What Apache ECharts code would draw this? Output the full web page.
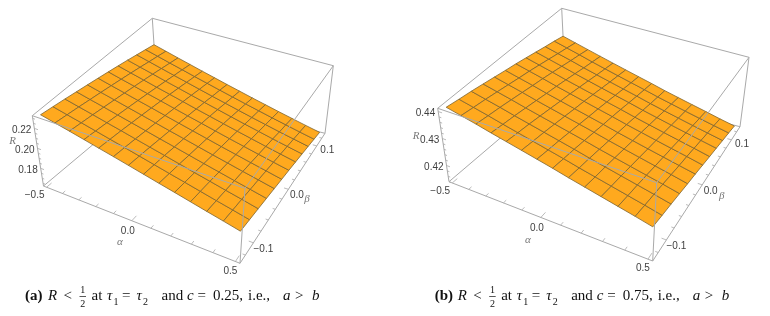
<!DOCTYPE html>
<html><head><meta charset="utf-8">
<style>html,body{margin:0;padding:0;background:#fff}#c{width:770px;height:316px}</style>
<script src="https://cdn.jsdelivr.net/npm/echarts@6/dist/echarts.min.js"></script>
</head><body><div id="c"></div>
<script>
const alphaNodes=[-0.5,-0.4231,-0.3462,-0.2692,-0.1923,-0.1154,-0.0385,0.0385,0.1154,0.1923,0.2692,0.3462,0.4231,0.5];
const betaNodes=[-0.125,-0.1023,-0.0795,-0.0568,-0.0341,-0.0114,0.0114,0.0341,0.0568,0.0795,0.1023,0.125];
const surfaceA=[
[.2313,.2278,.2244,.2209,.2174,.2140,.2105,.2070,.2035,.2001,.1966,.1931,.1897,.1862],
[.2294,.2259,.2225,.2190,.2155,.2121,.2086,.2051,.2016,.1982,.1947,.1912,.1878,.1843],
[.2275,.2240,.2206,.2171,.2137,.2102,.2067,.2033,.1998,.1963,.1929,.1894,.1860,.1824],
[.2255,.2220,.2186,.2151,.2117,.2082,.2047,.2013,.1978,.1943,.1909,.1874,.1840,.1805],
[.2236,.2201,.2167,.2132,.2098,.2063,.2028,.1994,.1959,.1924,.1890,.1855,.1821,.1786],
[.2217,.2182,.2148,.2113,.2079,.2044,.2009,.1975,.1940,.1905,.1871,.1836,.1802,.1767],
[.2198,.2163,.2129,.2094,.2060,.2025,.1990,.1956,.1921,.1886,.1852,.1817,.1783,.1749],
[.2179,.2144,.2110,.2075,.2041,.2006,.1971,.1937,.1902,.1867,.1833,.1798,.1764,.1730],
[.2160,.2125,.2091,.2056,.2022,.1987,.1952,.1918,.1883,.1848,.1814,.1779,.1745,.1711],
[.2140,.2105,.2071,.2036,.2002,.1967,.1932,.1898,.1863,.1828,.1794,.1759,.1726,.1692],
[.2121,.2087,.2052,.2018,.1983,.1949,.1914,.1880,.1845,.1811,.1776,.1742,.1707,.1673],
[.2102,.2068,.2033,.1999,.1964,.1930,.1895,.1861,.1826,.1792,.1757,.1723,.1688,.1654]];
const surfaceB=[
[.4407,.4394,.4381,.4367,.4354,.4341,.4328,.4315,.4301,.4288,.4275,.4262,.4249,.4235],
[.4399,.4386,.4373,.4359,.4346,.4333,.4320,.4307,.4293,.4280,.4267,.4254,.4241,.4227],
[.4392,.4379,.4366,.4352,.4339,.4326,.4313,.4300,.4286,.4273,.4260,.4247,.4234,.4220],
[.4384,.4371,.4358,.4344,.4331,.4318,.4305,.4292,.4278,.4265,.4252,.4239,.4226,.4212],
[.4376,.4363,.4350,.4336,.4323,.4310,.4297,.4284,.4270,.4257,.4244,.4231,.4218,.4204],
[.4368,.4355,.4342,.4328,.4315,.4302,.4289,.4276,.4262,.4249,.4236,.4223,.4210,.4197],
[.4361,.4348,.4335,.4321,.4308,.4295,.4282,.4269,.4255,.4242,.4229,.4216,.4203,.4189],
[.4353,.4340,.4327,.4313,.4300,.4287,.4274,.4261,.4247,.4234,.4221,.4208,.4195,.4181],
[.4345,.4332,.4319,.4305,.4292,.4279,.4266,.4253,.4239,.4226,.4213,.4200,.4187,.4174],
[.4337,.4324,.4311,.4297,.4284,.4271,.4258,.4245,.4231,.4218,.4205,.4192,.4179,.4166],
[.4330,.4317,.4304,.4290,.4277,.4264,.4251,.4238,.4224,.4211,.4198,.4185,.4172,.4159],
[.4322,.4309,.4296,.4283,.4270,.4257,.4244,.4231,.4217,.4204,.4191,.4178,.4164,.4151]];
const alphaTicks=[-0.5,-0.4,-0.3,-0.2,-0.1,0,0.1,0.2,0.3,0.4,0.5];
const betaTicks=[-0.12,-0.1,-0.08,-0.06,-0.04,-0.02,0,0.02,0.04,0.06,0.08,0.1,0.12];
const alphaLabels=['\u22120.5','0.0','0.5'], alphaLabelValues=[-0.5,0,0.5];
const betaLabels=['\u22120.1','0.0','0.1'], betaLabelValues=[-0.1,0,0.1];
const rTicksA=[0.165,0.17,0.175,0.18,0.185,0.19,0.195,0.2,0.205,0.21,0.215,0.22,0.225,0.23];
const rLabelValuesA=[0.18,0.2,0.22], rLabelsA=['0.18','0.20','0.22'];
const rTicksB=[0.414,0.416,0.418,0.42,0.422,0.424,0.426,0.428,0.43,0.432,0.434,0.436,0.438,0.44];
const rLabelValuesB=[0.42,0.43,0.44], rLabelsB=['0.42','0.43','0.44'];
const camA={top:[[32.3,115.7],[245,188.3],[333.3,65.7],[152.3,18.3]],bot:[[43.5,186],[240,263.3],[325,133.3],[157,91]],r:[0.1623,0.2327],rMajor:[0.18,0.2,0.22],
  alphaName:[120,242],betaName:[307,199],rName:[12.5,141]};
const camB={top:[[437.7,108.3],[656.7,182.7],[749,57.3],[561.7,8.3]],bot:[[449,181.7],[652.7,261],[740,126.7],[565.3,82.7]],r:[0.414,0.4412],rMajor:[0.42,0.43,0.44],
  alphaName:[528,240],betaName:[721.7,195.7],rName:[416,136]};
const A_RANGE=[-0.52,0.52],B_RANGE=[-0.133,0.133];
const alphaOff=[[-12,8.5],[-4,11],[-5,9.5]],betaOff=[[10,6.5],[8.5,6],[10.5,4]],rOff=[-12.7,1.7];
const BOX='#a9a9a9',TXT='#3f3f3f',AXN='#777';
function hom(q){const [[x0,y0],[x1,y1],[x2,y2],[x3,y3]]=q;
  const dx1=x1-x2,dx2=x3-x2,sx=x0-x1+x2-x3,dy1=y1-y2,dy2=y3-y2,sy=y0-y1+y2-y3,d=dx1*dy2-dx2*dy1;
  const g=(sx*dy2-dx2*sy)/d,h=(dx1*sy-sx*dy1)/d;
  const a=x1-x0+g*x1,b=x3-x0+h*x3,e=y1-y0+g*y1,f=y3-y0+h*y3;
  return (u,v)=>{const w=g*u+h*v+1;return [(a*u+b*v+x0)/w,(e*u+f*v+y0)/w];};}
function camera(c){const T=hom(c.top),B=hom(c.bot);
  return (u,v,w)=>{const p=B(u,v),q=T(u,v);return [p[0]+(q[0]-p[0])*w,p[1]+(q[1]-p[1])*w];};}
const nu=a=>(a-A_RANGE[0])/(A_RANGE[1]-A_RANGE[0]),nv=b=>(b-B_RANGE[0])/(B_RANGE[1]-B_RANGE[0]);
const base={type:'custom',coordinateSystem:'cartesian2d',silent:true,animation:false,clip:false};
function panel(cam,rows,rTicks,rLV,rL){
  const P=camera(cam),nw=r=>(r-cam.r[0])/(cam.r[1]-cam.r[0]);
  const line=(api,a,b,w)=>{const s=api.coord(a),e=api.coord(b);return {type:'line',shape:{x1:s[0],y1:s[1],x2:e[0],y2:e[1]},style:{stroke:BOX,lineWidth:w||1}};};
  const backEdges=[[[0,0,0],[1,0,0]],[[1,0,0],[1,1,0]],[[1,1,0],[0,1,0]],[[0,1,0],[0,0,0]],[[0,0,0],[0,0,1]],[[0,1,0],[0,1,1]],[[1,1,0],[1,1,1]],[[0,0,1],[0,1,1]],[[0,1,1],[1,1,1]]];
  const frontEdges=[[[0,0,1],[1,0,1]],[[1,0,1],[1,1,1]],[[1,0,0],[1,0,1]]];
  const edge=list=>Object.assign({},base,{data:list.map((_,i)=>[i,0]),renderItem:(p,api)=>{const e=list[p.dataIndex];return line(api,P(...e[0]),P(...e[1]));}});
  const ticks=[];
  alphaTicks.forEach(a=>ticks.push({p:[nu(a),0,0],d:[0,Math.abs(a*2)%1<1e-6?0.035:0.02,0]}));
  betaTicks.forEach(b=>ticks.push({p:[1,nv(b),0],d:[Math.abs(b*10)%1<1e-6?-0.02:-0.012,0,0]}));
  rTicks.forEach(r=>{const Mj=cam.rMajor.some(m=>Math.abs(m-r)<1e-6);ticks.push({p:[0,0,nw(r)],d:[Mj?0.02:0.012,0,0]});});
  const tickS=Object.assign({},base,{data:ticks.map((_,i)=>[i,0]),renderItem:(p,api)=>{const t=ticks[p.dataIndex];const e=[t.p[0]+t.d[0],t.p[1]+t.d[1],t.p[2]+t.d[2]];return line(api,P(...t.p),P(...e),0.8);}});
  const cells=[];for(let j=0;j<rows.length-1;j++)for(let i=0;i<rows[0].length-1;i++)cells.push([i,j]);
  const node=(i,j)=>P(nu(alphaNodes[i]),nv(betaNodes[j]),nw(rows[j][i]));
  const surf=Object.assign({},base,{z:3,data:cells,renderItem:(p,api)=>{const [i,j]=cells[p.dataIndex];
    return {type:'polygon',shape:{points:[node(i,j),node(i+1,j),node(i+1,j+1),node(i,j+1)].map(q=>api.coord(q))},style:{fill:'#FFA91E',stroke:'#7d6430',lineWidth:0.8}};}});
  const labels=[];
  alphaLabelValues.forEach((a,i)=>labels.push({p:P(nu(a),0,0),o:alphaOff[i],t:alphaLabels[i]}));
  betaLabelValues.forEach((b,i)=>labels.push({p:P(1,nv(b),0),o:betaOff[i],t:betaLabels[i]}));
  rLV.forEach((r,i)=>labels.push({p:P(0,0,nw(r)),o:rOff,t:rL[i]}));
  const names=[['\u03b1',cam.alphaName],['\u03b2',cam.betaName],['R',cam.rName]];
  const labelS=Object.assign({},base,{z:6,data:labels.map((_,i)=>[i,0]),renderItem:(p,api)=>{const l=labels[p.dataIndex];const c=api.coord([l.p[0]+l.o[0],l.p[1]+l.o[1]]);
    return {type:'text',style:{x:c[0],y:c[1],text:l.t,fill:TXT,font:'10px "Liberation Sans"',align:'center',verticalAlign:'middle'}};}});
  const nameS=Object.assign({},base,{z:6,data:names.map((_,i)=>[i,0]),renderItem:(p,api)=>{const l=names[p.dataIndex];const c=api.coord(l[1]);
    return {type:'text',style:{x:c[0],y:c[1],text:l[0],fill:AXN,font:'italic 11px "Liberation Serif"',align:'center',verticalAlign:'middle'}};}});
  return [Object.assign(edge(backEdges),{z:1}),Object.assign(tickS,{z:1}),surf,Object.assign(edge(frontEdges),{z:5}),labelS,nameS];
}
const F='"Liberation Serif"';
const capTokens=(lab,val)=>[[lab,25,'bold 15px '+F],['R',48,'italic 15px '+F],['<',63.5,'15px '+F],['at',91.5,'15px '+F],['\u03c4',107,'italic 15px '+F],['=',122,'15px '+F],['\u03c4',136.5,'italic 15px '+F],['and',161.5,'15px '+F],['c',187,'italic 15px '+F],['=',197.5,'15px '+F],[val,213,'15px '+F],['i.e.,',248,'15px '+F],['a',283,'italic 15px '+F],['>',295,'15px '+F],['b',312,'italic 15px '+F]];
function caption(dx,lab,val){const g=[];
  capTokens(lab,val).forEach(t=>g.push({type:'text',x:t[1]+dx,y:296.5,style:{text:t[0],font:t[2],fill:'#111',verticalAlign:'middle',align:'left'}}));
  [['1',113.5,302,'10px '],['2',143,302,'10px ']].forEach(t=>g.push({type:'text',x:t[1]+dx,y:t[2],style:{text:t[0],font:t[3]+F,fill:'#111',verticalAlign:'middle',align:'left'}}));
  g.push({type:'text',x:82.7+dx,y:290,style:{text:'1',font:'10px '+F,fill:'#111',align:'center',verticalAlign:'middle'}});
  g.push({type:'text',x:82.7+dx,y:304,style:{text:'2',font:'10px '+F,fill:'#111',align:'center',verticalAlign:'middle'}});
  g.push({type:'line',shape:{x1:79.5+dx,y1:296.5,x2:86+dx,y2:296.5},style:{stroke:'#111',lineWidth:0.7}});
  return g;}
const chart=echarts.init(document.getElementById('c'),null,{renderer:'canvas'});
chart.setOption({animation:false,backgroundColor:'#fff',
  grid:{left:0,right:0,top:0,bottom:0},
  xAxis:{type:'value',min:0,max:770,show:false},
  yAxis:{type:'value',min:0,max:316,inverse:true,show:false},
  graphic:caption(0,'(a)','0.25,').concat(caption(409.7,'(b)','0.75,')),
  series:panel(camA,surfaceA,rTicksA,rLabelValuesA,rLabelsA).concat(panel(camB,surfaceB,rTicksB,rLabelValuesB,rLabelsB))
});
</script></body></html>
